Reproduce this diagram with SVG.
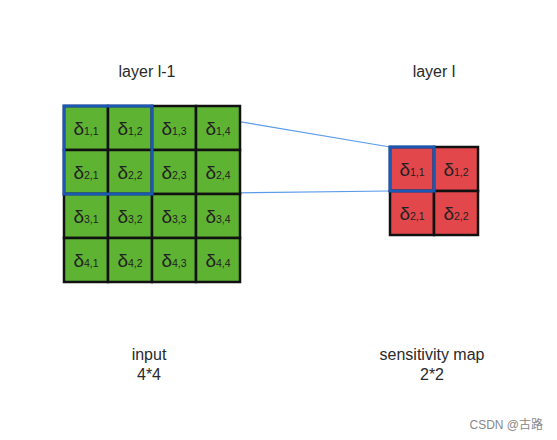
<svg xmlns="http://www.w3.org/2000/svg" width="557" height="440" viewBox="0 0 557 440">
<style>
.lbl{font-family:"Liberation Sans",Arial,sans-serif;font-size:16px;fill:#2a2a2a;text-anchor:middle}
.g{fill:#5fb333;stroke:#111;stroke-width:2.5}
.r{fill:#e2474b;stroke:#111;stroke-width:2.5}
.d{font-family:"Liberation Sans",Arial,sans-serif;font-size:19px;fill:#222;text-anchor:middle}
.s{font-size:10.5px}
.sel{fill:none;stroke:#1b57b5;stroke-width:3}
.conn{stroke:#5b9bea;stroke-width:1.2;fill:none}
</style>
<rect width="557" height="440" fill="#fff"/>
<text class="lbl" x="147" y="77">layer l-1</text>
<text class="lbl" x="434" y="77">layer l</text>
<g id="connectors">
<line class="conn" x1="152" y1="107" x2="390" y2="147"/>
<line class="conn" x1="152" y1="194" x2="390" y2="191"/>
</g>
<g id="input">
<rect class="g" x="64" y="106" width="44" height="44"/><text class="d" x="86" y="135">δ<tspan class="s">1,1</tspan></text>
<rect class="g" x="108" y="106" width="44" height="44"/><text class="d" x="130" y="135">δ<tspan class="s">1,2</tspan></text>
<rect class="g" x="152" y="106" width="44" height="44"/><text class="d" x="174" y="135">δ<tspan class="s">1,3</tspan></text>
<rect class="g" x="196" y="106" width="44" height="44"/><text class="d" x="218" y="135">δ<tspan class="s">1,4</tspan></text>
<rect class="g" x="64" y="150" width="44" height="44"/><text class="d" x="86" y="179">δ<tspan class="s">2,1</tspan></text>
<rect class="g" x="108" y="150" width="44" height="44"/><text class="d" x="130" y="179">δ<tspan class="s">2,2</tspan></text>
<rect class="g" x="152" y="150" width="44" height="44"/><text class="d" x="174" y="179">δ<tspan class="s">2,3</tspan></text>
<rect class="g" x="196" y="150" width="44" height="44"/><text class="d" x="218" y="179">δ<tspan class="s">2,4</tspan></text>
<rect class="g" x="64" y="194" width="44" height="44"/><text class="d" x="86" y="223">δ<tspan class="s">3,1</tspan></text>
<rect class="g" x="108" y="194" width="44" height="44"/><text class="d" x="130" y="223">δ<tspan class="s">3,2</tspan></text>
<rect class="g" x="152" y="194" width="44" height="44"/><text class="d" x="174" y="223">δ<tspan class="s">3,3</tspan></text>
<rect class="g" x="196" y="194" width="44" height="44"/><text class="d" x="218" y="223">δ<tspan class="s">3,4</tspan></text>
<rect class="g" x="64" y="238" width="44" height="44"/><text class="d" x="86" y="267">δ<tspan class="s">4,1</tspan></text>
<rect class="g" x="108" y="238" width="44" height="44"/><text class="d" x="130" y="267">δ<tspan class="s">4,2</tspan></text>
<rect class="g" x="152" y="238" width="44" height="44"/><text class="d" x="174" y="267">δ<tspan class="s">4,3</tspan></text>
<rect class="g" x="196" y="238" width="44" height="44"/><text class="d" x="218" y="267">δ<tspan class="s">4,4</tspan></text>
<rect class="sel" x="64" y="106" width="88" height="88"/>
</g>
<g id="sensitivity">
<rect class="r" x="390" y="147" width="44" height="44"/><text class="d" x="412" y="176">δ<tspan class="s">1,1</tspan></text>
<rect class="r" x="434" y="147" width="44" height="44"/><text class="d" x="456" y="176">δ<tspan class="s">1,2</tspan></text>
<rect class="r" x="390" y="191" width="44" height="44"/><text class="d" x="412" y="220">δ<tspan class="s">2,1</tspan></text>
<rect class="r" x="434" y="191" width="44" height="44"/><text class="d" x="456" y="220">δ<tspan class="s">2,2</tspan></text>
<rect class="sel" x="390" y="147" width="44" height="44"/>
</g>
<text class="lbl" x="149" y="360">input</text>
<text class="lbl" x="149" y="380">4*4</text>
<text class="lbl" x="432" y="360">sensitivity map</text>
<text class="lbl" x="432" y="380">2*2</text>
<text x="543" y="429" font-family="'Liberation Sans','Noto Sans CJK SC',sans-serif" font-size="12" fill="#888" text-anchor="end">CSDN @古路</text>
</svg>
